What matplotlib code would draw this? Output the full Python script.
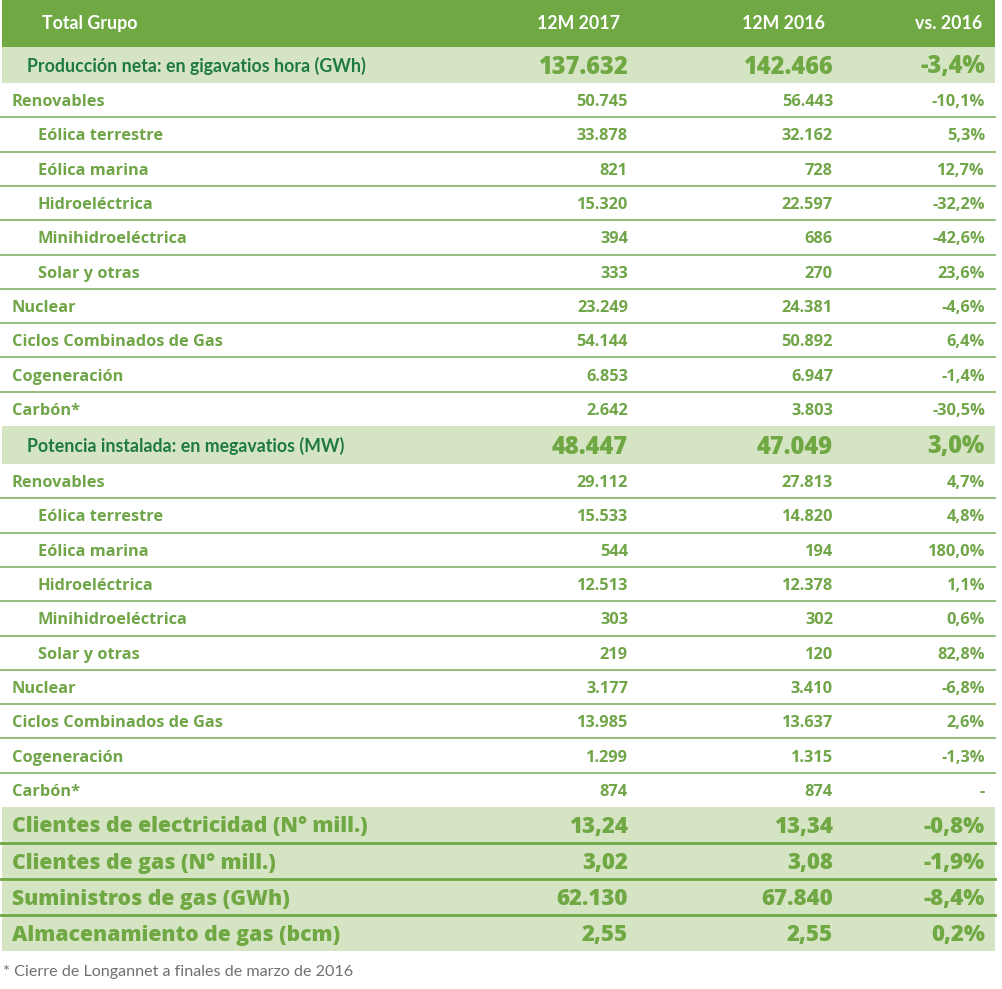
import matplotlib.pyplot as plt

# table content
col_heads = ['12M 2017', '12M 2016', 'vs. 2016']
title = 'Total Grupo'

sec_labels = ['Producción neta: en gigavatios hora (GWh)', 'Potencia instalada: en megavatios (MW)']
sec_2017 = ['137.632', '48.447']
sec_2016 = ['142.466', '47.049']
sec_var = ['-3,4%', '3,0%']

row_labels = ['Renovables', 'Eólica terrestre', 'Eólica marina', 'Hidroeléctrica',
              'Minihidroeléctrica', 'Solar y otras', 'Nuclear',
              'Ciclos Combinados de Gas', 'Cogeneración', 'Carbón*']
row_indent = [0, 1, 1, 1, 1, 1, 0, 0, 0, 0]

prod_2017 = ['50.745', '33.878', '821', '15.320', '394', '333', '23.249', '54.144', '6.853', '2.642']
prod_2016 = ['56.443', '32.162', '728', '22.597', '686', '270', '24.381', '50.892', '6.947', '3.803']
prod_var = ['-10,1%', '5,3%', '12,7%', '-32,2%', '-42,6%', '23,6%', '-4,6%', '6,4%', '-1,4%', '-30,5%']

pot_2017 = ['29.112', '15.533', '544', '12.513', '303', '219', '3.177', '13.985', '1.299', '874']
pot_2016 = ['27.813', '14.820', '194', '12.378', '302', '120', '3.410', '13.637', '1.315', '874']
pot_var = ['4,7%', '4,8%', '180,0%', '1,1%', '0,6%', '82,8%', '-6,8%', '2,6%', '-1,3%', '-']

big_labels = ['Clientes de electricidad (N° mill.)', 'Clientes de gas (N° mill.)',
              'Suministros de gas (GWh)', 'Almacenamiento de gas (bcm)']
big_2017 = ['13,24', '3,02', '62.130', '2,55']
big_2016 = ['13,34', '3,08', '67.840', '2,55']
big_var = ['-0,8%', '-1,9%', '-8,4%', '0,2%']

footnote = '* Cierre de Longannet a finales de marzo de 2016'

# styles
HEAD_BG = '#70a844'
LIGHT_BG = '#d5e4c3'
SEC_TXT = '#1f7a3f'
ROW_TXT = '#70a548'
LINE = '#8db872'
HEAD_FONT = 'Lato'
ROW_FONT = 'Open Sans'

X0, X1 = 2, 995
col_x = [628, 833, 985]
row_h = 34.3
dy = 2  # text sits a little below the row middle

fig = plt.figure(figsize=(10.02, 9.89), dpi=100)
ax = fig.add_axes([0, 0, 1, 1])
ax.set_xlim(0, 1002)
ax.set_ylim(989, 0)
ax.axis('off')


def band(y0, y1, color):
    ax.fill_between([X0, X1], y0, y1, color=color, lw=0)


def values(yc, vals, **kw):
    for x, v in zip(col_x, vals):
        ax.text(x, yc, v, ha='right', va='center', **kw)


# header
band(0, 47, HEAD_BG)
ax.text(42, 23.5, title, ha='left', va='center', color='white', fontsize=12.8,
        fontweight='bold', family=HEAD_FONT)
for x, h in zip([620, 825, 982], col_heads):
    ax.text(x, 23.5, h, ha='right', va='center', color='white', fontsize=12.8,
            fontweight='bold', family=HEAD_FONT)

blocks = [(47, 36, 0, prod_2017, prod_2016, prod_var),
          (426, 38, 1, pot_2017, pot_2016, pot_var)]

for y0, sh, i, v17, v16, vv in blocks:
    band(y0, y0 + sh, LIGHT_BG)
    yc = y0 + sh / 2 + dy
    ax.text(27, yc - 1, sec_labels[i], ha='left', va='center', color=SEC_TXT,
            fontsize=12.8, fontweight='bold', family=HEAD_FONT)
    values(yc, [sec_2017[i], sec_2016[i], sec_var[i]], color=HEAD_BG,
           fontsize=17, fontweight='heavy', family=ROW_FONT)
    ytop = y0 + sh
    for k, lab in enumerate(row_labels):
        yc = ytop + row_h * (k + 0.5) + dy
        ax.text(12 + 26 * row_indent[k], yc, lab, ha='left', va='center',
                color=ROW_TXT, fontsize=11.8, fontweight='bold', family=ROW_FONT)
        values(yc, [v17[k], v16[k], vv[k]], color=ROW_TXT, fontsize=11.8,
               fontweight='bold', family=ROW_FONT)
        if k < len(row_labels) - 1:
            ax.plot([X0 - 2, X1], [ytop + row_h * (k + 1)] * 2, color=LINE, lw=1.3)

# bottom big rows
big_top = 807
big_h = 36
band(big_top, big_top + big_h * len(big_labels), LIGHT_BG)
for k, lab in enumerate(big_labels):
    yc = big_top + big_h * (k + 0.5) + dy
    ax.text(12, yc, lab, ha='left', va='center', color=HEAD_BG, fontsize=15.2,
            fontweight='heavy', family=ROW_FONT)
    values(yc, [big_2017[k], big_2016[k], big_var[k]], color=HEAD_BG,
           fontsize=16, fontweight='heavy', family=ROW_FONT)
    if k > 0:
        ax.plot([X0 - 2, X1], [big_top + big_h * k] * 2, color=HEAD_BG, lw=2)

ax.text(3, 972, footnote, ha='left', va='center', color='#707070', fontsize=11.6,
        family=HEAD_FONT)

fig.savefig('out.png', dpi=100)
